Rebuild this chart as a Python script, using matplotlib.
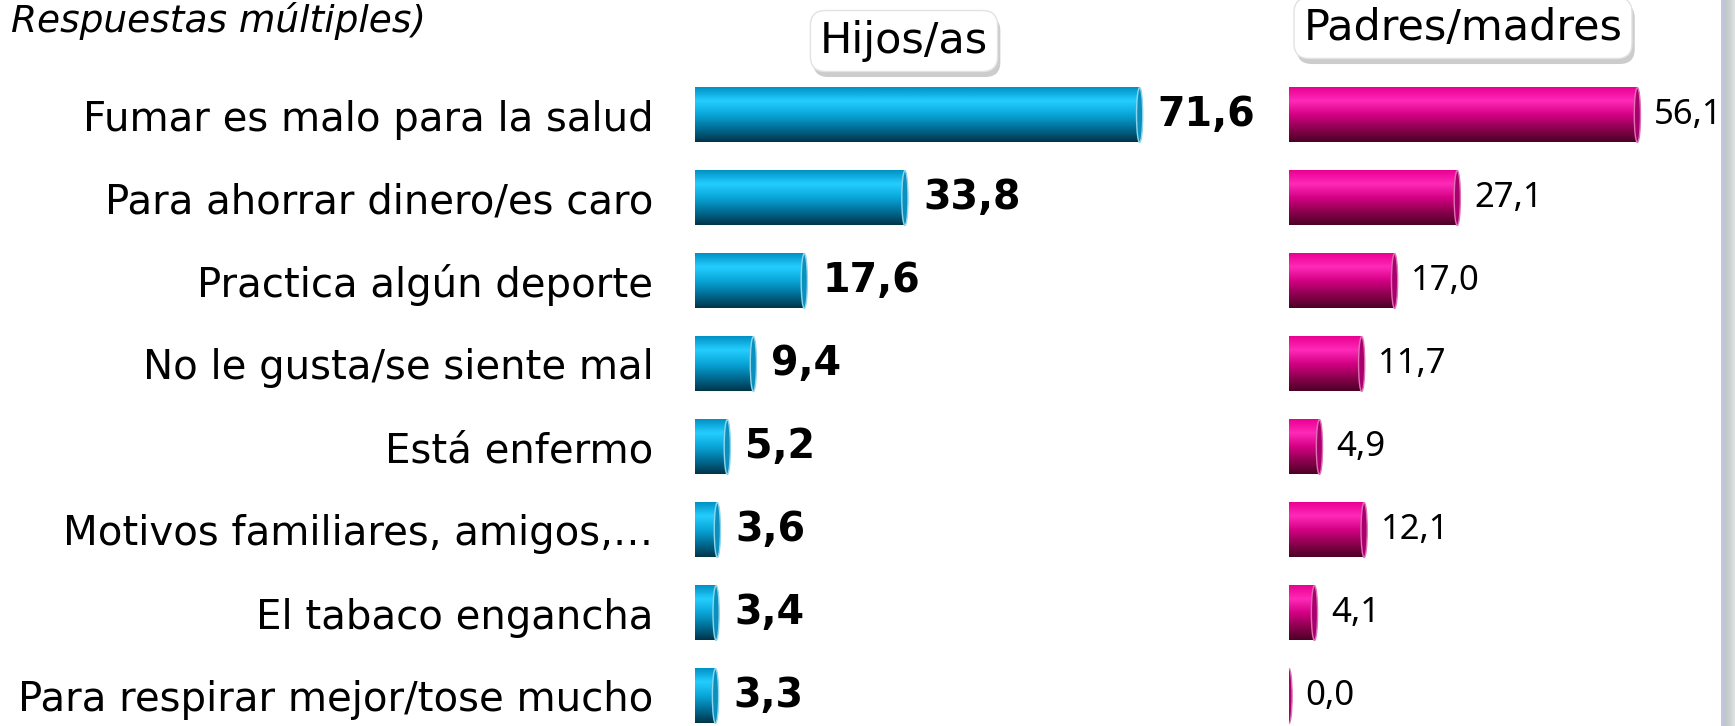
import numpy as np
import matplotlib.pyplot as plt
import matplotlib.patheffects as pe
from matplotlib.colors import LinearSegmentedColormap
from matplotlib.patches import Ellipse

# data
categorias = ['Fumar es malo para la salud', 'Para ahorrar dinero/es caro',
              'Practica algún deporte', 'No le gusta/se siente mal', 'Está enfermo',
              'Motivos familiares, amigos,…', 'El tabaco engancha',
              'Para respirar mejor/tose mucho']
hijos = [71.6, 33.8, 17.6, 9.4, 5.2, 3.6, 3.4, 3.3]
padres = [56.1, 27.1, 17.0, 11.7, 4.9, 12.1, 4.1, 0.0]

W, H = 1735, 726
fig = plt.figure(figsize=(W / 100, H / 100), dpi=100)

px_unit = 6.21          # pixels per percentage point
row_px = 83
n = len(categorias)
top_px = 115 - row_px / 2
ax_h = n * row_px
bar_h = 0.66

azul = LinearSegmentedColormap.from_list('azul', ['#0090c4', '#24ceff', '#0aa6d8', '#006e96', '#003448'])
rosa = LinearSegmentedColormap.from_list('rosa', ['#ea0092', '#ff2ab8', '#d40084', '#8e004f', '#4c0026'])
grad = np.linspace(0, 1, 256).reshape(-1, 1)


def make_ax(left_px, width_px):
    ax = fig.add_axes([left_px / W, 1 - (top_px + ax_h) / H, width_px / W, ax_h / H])
    for s in ax.spines.values():
        s.set_visible(False)
    ax.set_xticks([])
    return ax, width_px / px_unit


def draw_bars(ax, xmax, vals, cmap, cap_fc, cap_ec):
    for i, v in enumerate(vals):
        if v > 0:
            ax.imshow(grad, cmap=cmap, aspect='auto', interpolation='bicubic',
                      extent=[0, v, i + bar_h / 2, i - bar_h / 2], zorder=2)
        ax.add_patch(Ellipse((v, i), 1.0, bar_h, facecolor=cap_fc, edgecolor=cap_ec,
                             lw=1.0, zorder=3))
    ax.set_xlim(0, xmax)
    ax.set_ylim(n - 0.5, -0.5)


def fmt(v):
    return f'{v:.1f}'.replace('.', ',')


# left panel: Hijos/as
ax1, xmax1 = make_ax(695, 560)
draw_bars(ax1, xmax1, hijos, azul, '#0b8fbf', '#8fd6ec')
ax1.set_yticks(range(n))
ax1.set_yticklabels(categorias, fontsize=29)
ax1.tick_params(axis='y', length=0, pad=30)
for i, v in enumerate(hijos):
    ax1.annotate(fmt(v), (v, i), xytext=(13, 0), textcoords='offset points',
                 ha='left', va='center', fontsize=28.5, fontweight='bold')

# right panel: Padres/madres
ax2, xmax2 = make_ax(1289, 432)
draw_bars(ax2, xmax2, padres, rosa, '#a8006c', '#e070b4')
ax2.set_yticks([])
for i, v in enumerate(padres):
    ax2.annotate(fmt(v), (v, i), xytext=(12, 0), textcoords='offset points',
                 ha='left', va='center', fontsize=25, family='Noto Sans')

# top-left subtitle fragment
fig.text(11 / W, 1 - 2 / H, 'Respuestas múltiples)', fontsize=27, style='italic',
         ha='left', va='top')

# header boxes with soft shadow
for txt, cx, cy in [('Hijos/as', 904, 41), ('Padres/madres', 1463, 28)]:
    t = fig.text(cx / W, 1 - cy / H, txt, fontsize=31, ha='center', va='center',
                 bbox=dict(boxstyle='round,pad=0.22,rounding_size=0.35', fc='white',
                           ec='#e2e2e2', lw=1))
    t.get_bbox_patch().set_path_effects([
        pe.SimplePatchShadow(offset=(2, -4), shadow_rgbFace='#9a9a9a', alpha=0.5),
        pe.Normal()])

# grey strip at the right edge
axs = fig.add_axes([1721 / W, 0, 14 / W, 1])
strip = LinearSegmentedColormap.from_list('strip', ['#c4c4ec', '#c0c8c8', '#cdd3d3', '#dfe3e3'])
axs.imshow(np.linspace(0, 1, 64).reshape(1, -1), cmap=strip, aspect='auto')
axs.axis('off')

fig.savefig('out.png', dpi=100)
